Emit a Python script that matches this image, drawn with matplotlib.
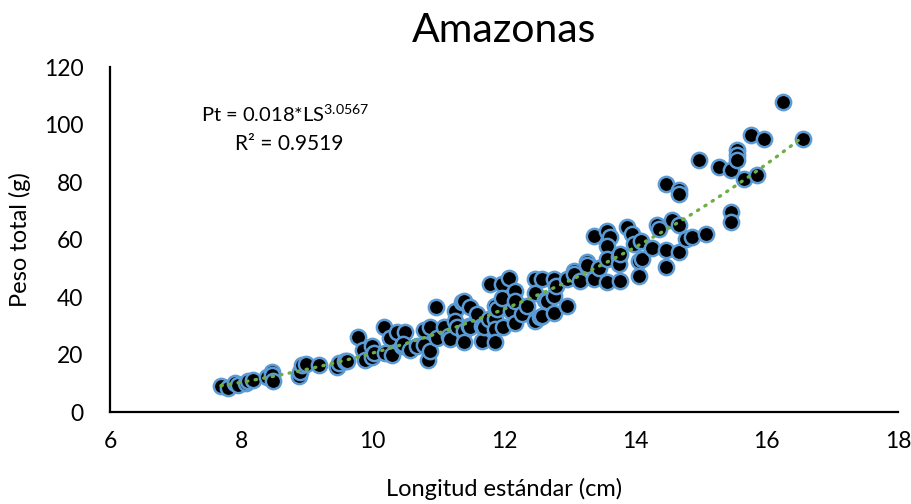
import numpy as np
import matplotlib
matplotlib.use("Agg")
import matplotlib.pyplot as plt

plt.rcParams['font.family'] = ['Lato', 'DejaVu Sans']

# Standard length (cm) and total weight (g) of each specimen
longitud = [
    7.69, 7.79, 7.90, 7.95, 8.07, 8.10, 8.18, 8.39, 8.46, 8.47, 8.49, 8.88, 8.90, 8.92, 8.99,
    9.18, 9.46, 9.49, 9.58, 9.61, 9.78, 9.86, 9.89, 9.99, 9.99, 10.02, 10.17, 10.19, 10.27, 10.29,
    10.37, 10.45, 10.50, 10.47, 10.57, 10.67, 10.78, 10.78, 10.85, 10.88, 10.88, 10.97, 10.98, 11.08,
    11.16, 11.18, 11.26, 11.26, 11.28, 11.36, 11.39, 11.39, 11.39, 11.46, 11.49, 11.49, 11.59, 11.67,
    11.67, 11.69, 11.77, 11.79, 11.87, 11.87, 11.87, 11.87, 11.89, 11.97, 11.97, 11.99, 12.07, 12.10,
    12.17, 12.17, 12.17, 12.27, 12.35, 12.48, 12.48, 12.48, 12.55, 12.58, 12.58, 12.62, 12.66, 12.76,
    12.76, 12.76, 12.80, 12.96, 12.96, 13.06, 13.06, 13.16, 13.26, 13.26, 13.37, 13.37, 13.45, 13.57,
    13.62, 13.57, 13.57, 13.57, 13.75, 13.75, 13.77, 13.77, 13.88, 13.95, 13.98, 14.05, 14.05, 14.08,
    14.10, 14.26, 14.33, 14.36, 14.46, 14.46, 14.46, 14.56, 14.66, 14.66, 14.66, 14.66, 14.77, 14.87,
    14.97, 15.07, 15.27, 15.45, 15.45, 15.45, 15.55, 15.55, 15.55, 15.65, 15.76, 15.86, 15.96, 16.25,
    16.56,
]
peso = [
    9.0, 8.3, 10.2, 9.5, 10.0, 10.8, 11.0, 12.3, 14.0, 13.0, 10.8, 12.5, 14.0, 16.2, 16.8,
    16.5, 15.5, 17.2, 17.6, 17.8, 26.2, 21.6, 18.2, 23.0, 19.0, 20.5, 29.6, 20.5, 25.9, 19.9,
    27.9, 23.0, 27.7, 23.6, 21.5, 23.0, 28.6, 23.2, 18.0, 21.3, 29.4, 36.4, 25.9, 29.4,
    26.5, 25.5, 35.2, 31.7, 29.4, 38.1, 38.7, 28.2, 24.2, 30.0, 36.4, 29.4, 34.1, 30.0,
    24.8, 29.4, 32.3, 44.5, 37.0, 32.3, 28.9, 24.2, 36.0, 44.5, 39.5, 29.4, 46.5, 35.0,
    42.1, 38.7, 30.8, 34.1, 37.0, 46.3, 41.4, 31.7, 33.0, 46.3, 33.5, 39.0, 38.7, 46.3,
    40.5, 34.6, 44.0, 46.3, 37.0, 49.2, 48.0, 45.7, 52.1, 51.0, 61.4, 46.3, 50.0, 63.1,
    61.0, 57.9, 53.2, 45.1, 54.0, 51.5, 55.0, 45.7, 64.3, 62.0, 58.5, 52.7, 47.4, 59.6,
    53.2, 57.1, 64.9, 63.7, 79.4, 56.4, 50.6, 66.9, 77.1, 75.7, 64.9, 55.6, 60.2, 61.0,
    87.8, 62.0, 85.2, 84.3, 69.5, 66.0, 91.0, 89.3, 87.6, 81.2, 96.3, 82.3, 94.9, 107.7,
    95.1,
]

# Power fit reported on the chart
coef_a = 0.018
coef_b = 3.0567
r2 = 0.9519

x_ticks = [6, 8, 10, 12, 14, 16, 18]
y_ticks = [0, 20, 40, 60, 80, 100, 120]

fig = plt.figure(figsize=(9.11, 5.04), dpi=100)
ax = fig.add_axes([0.1207, 0.1825, 0.8650, 0.6845])

ax.plot(longitud, peso, linestyle='none', marker='o', markersize=11,
        markerfacecolor='black', markeredgecolor='#5B9BD5', markeredgewidth=1.8,
        zorder=2)

xs = np.linspace(min(longitud), max(longitud), 200)
ax.plot(xs, coef_a * xs ** coef_b, color='#70AD47', linewidth=2.4,
        linestyle=(0, (0.4, 2.2)), dash_capstyle='round', zorder=3)

ax.set_xlim(6, 18)
ax.set_ylim(0, 120)
ax.set_xticks(x_ticks)
ax.set_yticks(y_ticks)
ax.tick_params(length=0, labelsize=16.5, colors='black')
ax.tick_params(axis='x', pad=14)
ax.tick_params(axis='y', pad=19)

for side in ('top', 'right'):
    ax.spines[side].set_visible(False)
for side in ('left', 'bottom'):
    ax.spines[side].set_linewidth(1.6)
    ax.spines[side].set_color('black')

ax.set_title('Amazonas', fontsize=29.5, pad=18)
ax.set_xlabel('Longitud estándar (cm)', fontsize=17, labelpad=18)
ax.set_ylabel('Peso total (g)', fontsize=17, labelpad=9)

ax.text(0.222, 0.865, r'Pt = 0.018*LS$^{\mathregular{3.0567}}$', transform=ax.transAxes,
        ha='center', va='center', fontsize=14.5)
ax.text(0.227, 0.778, f'R² = {r2}', transform=ax.transAxes,
        ha='center', va='center', fontsize=15)

fig.savefig('out.png', dpi=100)
